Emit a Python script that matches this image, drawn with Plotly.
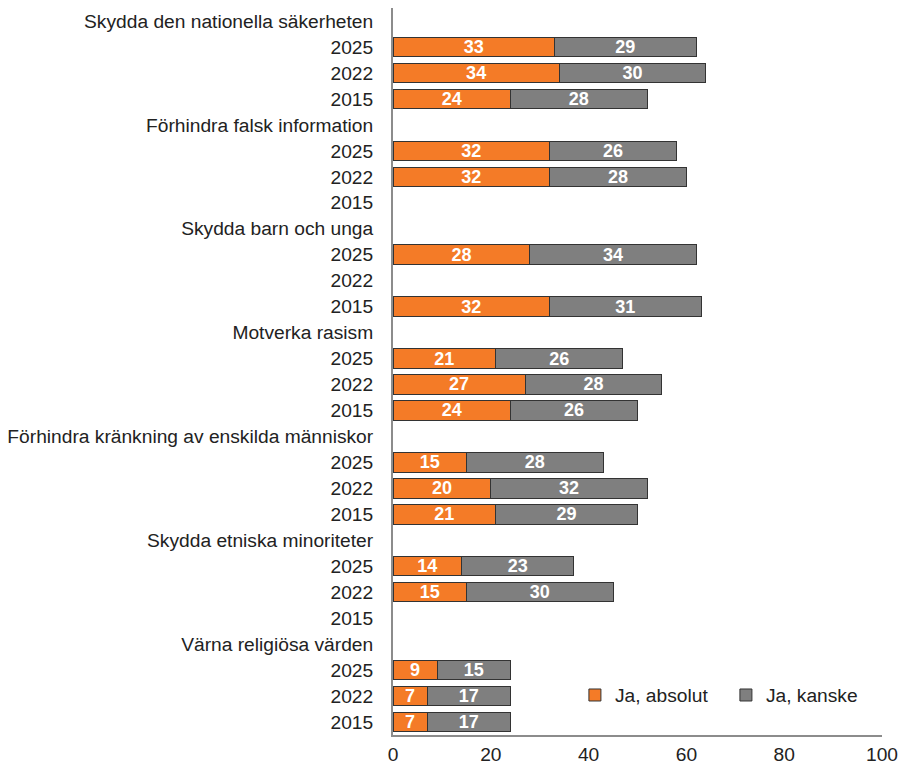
import plotly.graph_objects as go

groups = [
    "Skydda den nationella säkerheten",
    "Förhindra falsk information",
    "Skydda barn och unga",
    "Motverka rasism",
    "Förhindra kränkning av enskilda människor",
    "Skydda etniska minoriteter",
    "Värna religiösa värden",
]
years = ["2025", "2022", "2015"]

# values per group, order 2025, 2022, 2015 (None = no data)
ja_absolut = [
    [33, 34, 24],
    [32, 32, None],
    [28, None, 32],
    [21, 27, 24],
    [15, 20, 21],
    [14, 15, None],
    [9, 7, 7],
]
ja_kanske = [
    [29, 30, 28],
    [26, 28, None],
    [34, None, 31],
    [26, 28, 26],
    [28, 32, 29],
    [23, 30, None],
    [15, 17, 17],
]

x_ticks = [0, 20, 40, 60, 80, 100]

# build row structure: header row then year rows
tick_pos, tick_text = [], []
ypos, abs_vals, kan_vals = [], [], []
row = 0
for g, a_list, k_list in zip(groups, ja_absolut, ja_kanske):
    tick_pos.append(row)
    tick_text.append(g)
    row += 1
    for y, a, k in zip(years, a_list, k_list):
        tick_pos.append(row)
        tick_text.append(y)
        ypos.append(row)
        abs_vals.append(a)
        kan_vals.append(k)
        row += 1

ORANGE = "#F47B27"
GREY = "#7F7F7F"
FONT = "Liberation Sans, Arial, sans-serif"
FS = 19.2
label_font = dict(family=FONT, size=18, color="white")

fig = go.Figure()
for name, vals, col in [("Ja, absolut", abs_vals, ORANGE), ("Ja, kanske", kan_vals, GREY)]:
    fig.add_trace(go.Bar(
        y=ypos, x=vals, orientation="h", name=name,
        marker=dict(color=col, line=dict(color="#333333", width=1)),
        text=[str(v) if v is not None else "" for v in vals],
        textposition="inside", insidetextanchor="middle", textangle=0,
        textfont=label_font, texttemplate="<b>%{text}</b>",
        constraintext="none", hoverinfo="x+name",
    ))

fig.update_layout(
    barmode="stack",
    bargap=0.25,
    width=901, height=764,
    margin=dict(l=393, r=19, t=8, b=29, pad=0),
    paper_bgcolor="white", plot_bgcolor="white",
    font=dict(family=FONT, size=FS, color="#222222"),
    uniformtext=dict(minsize=18, mode="show"),
    showlegend=True,
    legend=dict(
        orientation="h", x=0.372, y=0.055, xanchor="left", yanchor="middle",
        font=dict(family=FONT, size=FS, color="#222222"), bgcolor="rgba(0,0,0,0)",
        itemwidth=30, traceorder="normal", entrywidth=106,
    ),
    xaxis=dict(
        range=[0, 100], tickvals=x_ticks, showgrid=False, zeroline=False,
        showline=True, linecolor="#8C8C8C", linewidth=2, ticks="",
        tickfont=dict(family=FONT, size=FS, color="#222222"), ticklabelstandoff=1,
        fixedrange=True, automargin=False,
    ),
    yaxis=dict(
        range=[27.5, -0.5], tickvals=tick_pos, ticktext=tick_text,
        showgrid=False, zeroline=False, showline=True, linecolor="#8C8C8C",
        linewidth=2, ticks="", ticklabelstandoff=14,
        tickfont=dict(family=FONT, size=FS, color="#222222"), fixedrange=True,
        automargin=False,
    ),
)

fig.write_html(
    "out.html",
    config={"displayModeBar": False},
    post_script="document.body.style.margin='0';document.documentElement.style.overflow='hidden';",
)
